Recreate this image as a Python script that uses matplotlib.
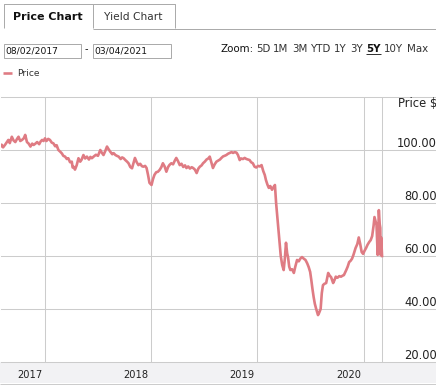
import matplotlib
matplotlib.use('Agg')
import matplotlib.pyplot as plt
import matplotlib.dates as mdates
import matplotlib.transforms as mtransforms
from matplotlib.patches import Rectangle
from matplotlib.lines import Line2D
import datetime as dt

# ---------------- data ----------------
price_dates = [
    "2017-08-02", "2017-08-05", "2017-08-10", "2017-08-17", "2017-08-23", "2017-08-28",
    "2017-09-02", "2017-09-09", "2017-09-15", "2017-09-21", "2017-09-27", "2017-10-02",
    "2017-10-08", "2017-10-14", "2017-10-20", "2017-10-25", "2017-10-31", "2017-11-06",
    "2017-11-12", "2017-11-18", "2017-11-23", "2017-11-29", "2017-12-05", "2017-12-12",
    "2017-12-17", "2017-12-22", "2017-12-27", "2018-01-01", "2018-01-06", "2018-01-12",
    "2018-01-18", "2018-01-24", "2018-01-30", "2018-02-05", "2018-02-10", "2018-02-16",
    "2018-02-22", "2018-02-28", "2018-03-05", "2018-03-11", "2018-03-17", "2018-03-22",
    "2018-03-28", "2018-04-03", "2018-04-06", "2018-04-09", "2018-04-14", "2018-04-20",
    "2018-04-26", "2018-05-02", "2018-05-07", "2018-05-13", "2018-05-19", "2018-05-25",
    "2018-06-01", "2018-06-06", "2018-06-11", "2018-06-18", "2018-06-25", "2018-07-02",
    "2018-07-10", "2018-07-15", "2018-07-21", "2018-07-27", "2018-08-02", "2018-08-08",
    "2018-08-13", "2018-08-20", "2018-08-25", "2018-08-31", "2018-09-05", "2018-09-11",
    "2018-09-18", "2018-09-23", "2018-09-28", "2018-10-04", "2018-10-10", "2018-10-15",
    "2018-10-21", "2018-10-27", "2018-11-01", "2018-11-06", "2018-11-12", "2018-11-18",
    "2018-11-24", "2018-11-30", "2018-12-05", "2018-12-11", "2018-12-16", "2018-12-21",
    "2018-12-26", "2019-01-02", "2019-01-07", "2019-01-12", "2019-01-18", "2019-01-24",
    "2019-01-30", "2019-02-05", "2019-02-10", "2019-02-16", "2019-02-22", "2019-02-28",
    "2019-03-05", "2019-03-11", "2019-03-17", "2019-03-23", "2019-03-28", "2019-04-03",
    "2019-04-09", "2019-04-15", "2019-04-21", "2019-04-27", "2019-05-02", "2019-05-08",
    "2019-05-14", "2019-05-20", "2019-05-25", "2019-05-31", "2019-06-06", "2019-06-12",
    "2019-06-17", "2019-06-23", "2019-06-28", "2019-07-04", "2019-07-10", "2019-07-16",
    "2019-07-21", "2019-07-26", "2019-08-01", "2019-08-07", "2019-08-13", "2019-08-19",
    "2019-08-25", "2019-08-30", "2019-09-05", "2019-09-10", "2019-09-16", "2019-09-22",
    "2019-09-28", "2019-10-04", "2019-10-09", "2019-10-15", "2019-10-21", "2019-10-26",
    "2019-11-01", "2019-11-06", "2019-11-12", "2019-11-18", "2019-11-24", "2019-11-30",
    "2019-12-05", "2019-12-10", "2019-12-16", "2019-12-22", "2019-12-28", "2020-01-03",
    "2020-01-09", "2020-01-15", "2020-01-21", "2020-01-26", "2020-01-30", "2020-02-04",
    "2020-02-09", "2020-02-14", "2020-02-20", "2020-02-25", "2020-03-01", "2020-03-05",
    "2020-03-09", "2020-03-13", "2020-03-17", "2020-03-21", "2020-03-26", "2020-03-31",
    "2020-04-04", "2020-04-08", "2020-04-12", "2020-04-15", "2020-04-19", "2020-04-23",
    "2020-04-29", "2020-05-05", "2020-05-10", "2020-05-16", "2020-05-22", "2020-05-27",
    "2020-06-02", "2020-06-08", "2020-06-14", "2020-06-20", "2020-06-25", "2020-06-30",
    "2020-07-04", "2020-07-08", "2020-07-12", "2020-07-16", "2020-07-20", "2020-07-27",
    "2020-07-31", "2020-08-05", "2020-08-09", "2020-08-13", "2020-08-18", "2020-08-24",
    "2020-08-31", "2020-09-05", "2020-09-10", "2020-09-17", "2020-09-22", "2020-09-26",
    "2020-10-02", "2020-10-08", "2020-10-14", "2020-10-20", "2020-10-24", "2020-11-01",
    "2020-11-06", "2020-11-11", "2020-11-16", "2020-11-21", "2020-11-26", "2020-12-03",
    "2020-12-09", "2020-12-14", "2020-12-19", "2020-12-24", "2020-12-29", "2021-01-03",
    "2021-01-08", "2021-01-13", "2021-01-19", "2021-01-24", "2021-01-29", "2021-02-03",
    "2021-02-06", "2021-02-10", "2021-02-13", "2021-02-17", "2021-02-19", "2021-02-21",
    "2021-02-24", "2021-02-26", "2021-02-27", "2021-03-01", "2021-03-04",
]
price_values = [
    101.5, 102.0, 101.0, 102.0, 103.0, 103.8,
    102.6, 105.0, 103.6, 103.0, 104.2, 105.0,
    103.4, 103.8, 104.4, 105.7, 103.0, 102.4,
    101.3, 102.4, 101.9, 102.4, 103.0, 102.2,
    103.2, 103.8, 103.4, 104.4, 103.4, 104.2,
    103.8, 102.8, 102.5, 101.4, 101.8, 100.0,
    99.4, 98.7, 97.8, 97.5, 96.6, 96.9,
    95.4, 95.6, 93.4, 93.7, 92.6, 94.3,
    96.9, 95.6, 96.4, 98.1, 96.8, 97.5,
    96.4, 97.4, 96.9, 97.6, 98.2, 97.8,
    100.0, 99.0, 98.1, 99.6, 101.3, 100.2,
    99.4, 98.4, 98.8, 98.1, 97.8, 97.5,
    96.6, 97.2, 96.9, 96.2, 95.6, 95.0,
    93.6, 93.1, 95.0, 97.0, 95.4, 94.3,
    94.8, 93.9, 93.7, 94.0, 93.2, 90.6,
    87.6, 86.8, 89.0, 90.6, 91.6, 91.8,
    92.5, 93.6, 95.0, 93.8, 91.8, 93.6,
    94.4, 95.0, 94.6, 96.0, 97.0, 95.8,
    94.3, 94.8, 93.6, 94.2, 93.2, 93.8,
    93.0, 93.5, 93.2, 92.6, 91.3, 93.0,
    93.7, 94.2, 95.0, 95.6, 96.4, 96.8,
    97.5, 95.6, 93.2, 94.6, 95.6, 96.0,
    96.4, 97.0, 97.6, 97.8, 98.1, 98.6,
    98.9, 99.2, 98.9, 99.2, 99.0, 98.1,
    96.2, 96.8, 96.6, 97.0, 96.6, 96.4,
    96.2, 95.4, 95.0, 93.7, 93.4, 94.0,
    93.8, 94.3, 92.0, 90.6, 88.7, 87.0,
    85.7, 86.4, 85.0, 86.0, 86.8, 80.0,
    75.0, 70.0, 65.0, 60.0, 56.6, 54.7,
    59.0, 65.0, 61.0, 59.6, 56.0, 54.7,
    55.0, 53.6, 56.0, 58.5, 58.0, 59.0,
    59.6, 59.0, 58.5, 57.2, 55.8, 54.0,
    50.9, 47.5, 44.5, 42.0, 40.3, 37.7,
    38.6, 40.0, 46.0, 49.0, 49.5, 49.8,
    53.6, 52.6, 52.0, 49.8, 51.0, 52.2,
    51.8, 52.4, 52.2, 52.6, 52.8, 54.7,
    56.0, 57.7, 58.2, 59.0, 60.5, 63.0,
    64.5, 67.0, 64.5, 61.5, 60.8, 62.0,
    63.0, 64.2, 65.3, 66.0, 67.5, 71.5,
    74.7, 73.0, 71.7, 60.4, 68.0, 77.3,
    72.0, 70.6, 60.4, 67.0, 60.0,
]
y_ticks = [20, 40, 60, 80, 100, 120]
y_tick_labels = ["20.00", "40.00", "60.00", "80.00", "100.00", ""]
year_lines = ["2018-01-01", "2019-01-01", "2020-01-01", "2021-01-01"]
year_labels = ["2017", "2018", "2019", "2020"]
range_start = "08/02/2017"
range_end = "03/04/2021"
zoom_options = ["5D", "1M", "3M", "YTD", "1Y", "3Y", "5Y", "10Y", "Max"]
selected_zoom = "5Y"

# ---------------- styling ----------------
LINE_C = '#df7b83'
GRID_C = '#cccccc'
BORDER_C = '#ababab'
TEXT_C = '#222222'

W, H = 436, 388
fig = plt.figure(figsize=(W / 100, H / 100), dpi=100)
fig.patch.set_facecolor('white')


def fx(x):
    return x / W


def fy(y):
    return 1 - y / H


def fline(xs, ys, color, lw=1.0, z=5):
    fig.add_artist(Line2D([fx(v) for v in xs], [fy(v) for v in ys], color=color,
                          lw=lw * 0.72, transform=fig.transFigure, zorder=z,
                          solid_capstyle='butt'))


def frect(x0, y0, x1, y1, fc, ec=None, lw=1.0, z=1):
    fig.add_artist(Rectangle((fx(x0), fy(y1)), (x1 - x0) / W, (y1 - y0) / H,
                             facecolor=fc, edgecolor=ec if ec else 'none',
                             lw=lw * 0.72, transform=fig.transFigure, zorder=z))


# tabs
fline([3.5, 3.5, 92.5, 92.5], [28, 3.5, 3.5, 28], BORDER_C)
fline([92.5, 174.5, 174.5], [3.5, 3.5, 28], BORDER_C)
fline([92.5, 436], [28.5, 28.5], BORDER_C)
fig.text(fx(47.5), fy(16.5), "Price Chart", ha='center', va='center',
         fontsize=8.0, fontweight='bold', color='#111111')
fig.text(fx(133), fy(16.5), "Yield Chart", ha='center', va='center',
         fontsize=7.7, color='#333333')

# date inputs
frect(3.5, 43.5, 80.5, 57.5, 'white', BORDER_C, 1.0, z=2)
frect(92.5, 43.5, 170.5, 57.5, 'white', BORDER_C, 1.0, z=2)
fig.text(fx(5.5), fy(50.5), range_start, ha='left', va='center', fontsize=6.6, color='#111111', zorder=3)
fig.text(fx(94.5), fy(50.5), range_end, ha='left', va='center', fontsize=6.6, color='#111111', zorder=3)
fig.text(fx(86), fy(49), "-", ha='center', va='center', fontsize=7, color='#111111')

# zoom selector
zoom_x = [256, 273, 292, 310, 334, 350, 366, 384, 407]
fig.text(fx(220), fy(49), "Zoom:", ha='left', va='center', fontsize=7.4, color='#111111')
for lab, xx in zip(zoom_options, zoom_x):
    sel = lab == selected_zoom
    fig.text(fx(xx), fy(49), lab, ha='left', va='center', fontsize=7.4,
             color='#111111' if sel else '#333333',
             fontweight='bold' if sel else 'normal')
    if sel:
        fline([xx, xx + 14.5], [53.8, 53.8], '#333333', 1.0)

# legend
fline([3, 12], [72.5, 72.5], LINE_C, 2.6)
fig.text(fx(17), fy(73), "Price", ha='left', va='center', fontsize=6.6, color='#333333')

# x-axis band
frect(0, 362, 436, 383, '#f2f2f4', z=0)
fline([0, 436], [383.5, 383.5], GRID_C)

# ---------------- axes ----------------
ax_left_px, ax_top_px, ax_bot_px = 1, 97, 362
ax = fig.add_axes([ax_left_px / W, (H - ax_bot_px) / H, (W - ax_left_px) / W,
                   (ax_bot_px - ax_top_px) / H])
ax.set_facecolor('white')
for s in ax.spines.values():
    s.set_visible(False)

dates = [dt.datetime.strptime(d, "%Y-%m-%d") for d in price_dates]
ax.plot(dates, price_values, color=LINE_C, lw=1.9, solid_joinstyle='round', zorder=3)

# x scale: 2018-01-01 at px 45, 2021-01-01 at px 364
ppd = (364 - 45) / 1096.0
x_ref = mdates.date2num(dt.datetime(2018, 1, 1))
xmin = x_ref - (45 - ax_left_px) / ppd
xmax = xmin + (W - ax_left_px) / ppd
ax.set_xlim(xmin, xmax)
ax.set_ylim(y_ticks[0], y_ticks[-1])

vlines = [dt.datetime.strptime(d, "%Y-%m-%d") for d in year_lines] + [dates[-1]]
ax.set_xticks(mdates.date2num(vlines))
ax.set_yticks(y_ticks)
ax.grid(True, color=GRID_C, lw=0.75)
ax.tick_params(length=0, labelbottom=False, labelleft=False)
for gl in ax.get_ygridlines():
    gl.set_clip_on(False)

# y labels (right side, above gridlines)
ytr = mtransforms.offset_copy(ax.get_yaxis_transform(), fig=fig, x=0, y=3, units='dots')
x_lab = (437 - ax_left_px) / (W - ax_left_px)
for v, lab in zip(y_ticks, y_tick_labels):
    if lab:
        ax.text(x_lab, v, lab, transform=ytr, ha='right', va='baseline',
                fontsize=8.3, color=TEXT_C, clip_on=False)
ax.text(x_lab, (ax_bot_px - 107) / (ax_bot_px - ax_top_px), "Price $", transform=ax.transAxes,
        ha='right', va='baseline', fontsize=8.3, color=TEXT_C, clip_on=False)

# x labels in band
xtr = mtransforms.offset_copy(ax.get_xaxis_transform(), fig=fig, x=-15.5, y=-12.5, units='dots')
for d, lab in zip(year_lines, year_labels):
    ax.text(mdates.date2num(dt.datetime.strptime(d, "%Y-%m-%d")), 0, lab, transform=xtr,
            ha='center', va='center', fontsize=7.1, color=TEXT_C, clip_on=False)

fig.savefig("out.png", dpi=100)
